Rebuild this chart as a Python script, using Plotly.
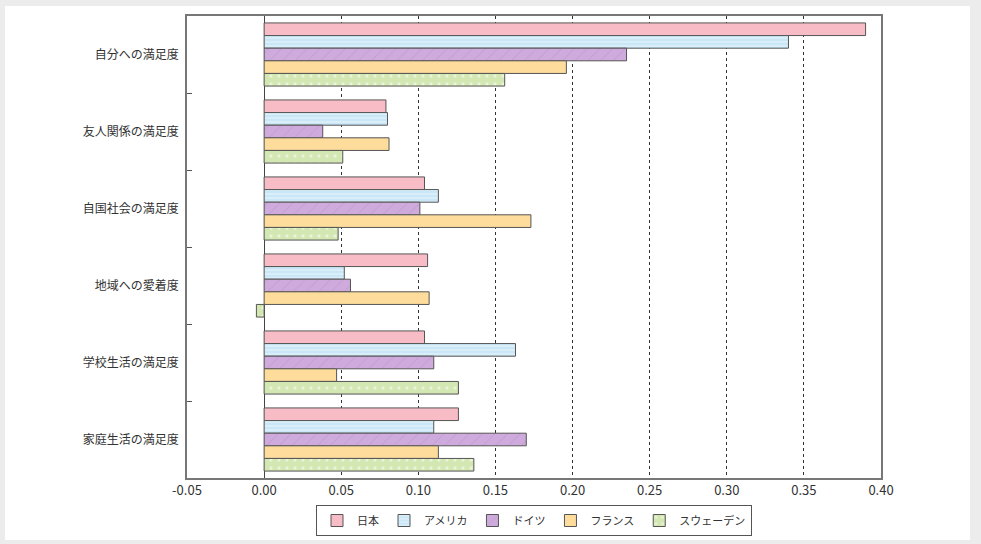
import plotly.graph_objects as go

categories = ["自分への満足度", "友人関係の満足度", "自国社会の満足度", "地域への愛着度", "学校生活の満足度", "家庭生活の満足度"]
series_names = ["日本", "アメリカ", "ドイツ", "フランス", "スウェーデン"]
japan = [0.390, 0.079, 0.104, 0.106, 0.104, 0.126]
usa = [0.340, 0.080, 0.113, 0.052, 0.163, 0.110]
germany = [0.235, 0.038, 0.101, 0.056, 0.110, 0.170]
france = [0.196, 0.081, 0.173, 0.107, 0.047, 0.113]
sweden = [0.156, 0.051, 0.048, -0.005, 0.126, 0.136]
x_ticks = [-0.05, 0.0, 0.05, 0.10, 0.15, 0.20, 0.25, 0.30, 0.35, 0.40]
x_tick_labels = ["-0.05", "0.00", "0.05", "0.10", "0.15", "0.20", "0.25", "0.30", "0.35", "0.40"]

values = [japan, usa, germany, france, sweden]
colors = ["#f8bcc6", "#c9e7f6", "#cfaadc", "#fddc9c", "#d3e7b2"]
patterns = [
    dict(shape=""),
    dict(shape="-", fgcolor="#ffffff", bgcolor="#c9e7f6", size=4, solidity=0.3, fillmode="overlay"),
    dict(shape="/", fgcolor="#9c78ac", bgcolor="#cfaadc", size=9, solidity=0.06, fillmode="overlay"),
    dict(shape=""),
    dict(shape=".", fgcolor="#ffffff", bgcolor="#d3e7b2", size=8, solidity=0.15, fillmode="overlay"),
]

fig = go.Figure()
for name, vals, col, pat in zip(series_names, values, colors, patterns):
    fig.add_trace(go.Bar(
        y=categories, x=vals, name=name, orientation="h",
        marker=dict(color=col, line=dict(color="#555555", width=1), pattern=pat),
    ))

font_family = "Noto Sans CJK JP, Noto Sans, sans-serif"
fig.update_layout(
    width=981, height=544,
    paper_bgcolor="#ececec", plot_bgcolor="#ffffff",
    margin=dict(l=187, r=100, t=16, b=66, autoexpand=False),
    barmode="group", bargap=0.18, bargroupgap=0,
    font=dict(family=font_family, size=12, color="#333333"),
    showlegend=True,
    legend=dict(
        orientation="h", x=0.5, xanchor="center", y=-0.092, yanchor="middle",
        bordercolor="#555555", borderwidth=1, bgcolor="#ffffff",
        font=dict(size=11, color="#333333"), itemwidth=30, tracegroupgap=0,
        traceorder="normal",
    ),
    shapes=[dict(type="rect", xref="paper", yref="paper",
                 x0=-182/694, x1=1 + 89/694,
                 y0=-62/462, y1=1 + 10/462,
                 fillcolor="#ffffff", line=dict(width=0), layer="below")],
)
fig.update_xaxes(
    range=[-0.05, 0.40], tickvals=x_ticks, ticktext=x_tick_labels,
    showgrid=True, gridcolor="#333333", griddash="dot", gridwidth=1,
    zeroline=True, zerolinecolor="#444444", zerolinewidth=1.2,
    showline=True, linecolor="#777777", linewidth=1.5, mirror=True,
    ticks="", tickfont=dict(size=13, color="#333333"),
)
fig.update_yaxes(
    autorange="reversed", categoryorder="array", categoryarray=categories,
    showline=True, linecolor="#777777", linewidth=1.5, mirror=True,
    ticks="inside", ticklen=5, tickcolor="#555555", tickson="boundaries",
    ticklabelstandoff=4,
    showgrid=False, tickfont=dict(size=12, color="#333333"),
)

fig.write_html("out.html", config={"displayModeBar": False},
               post_script="document.body.style.margin='0';document.body.style.overflow='hidden';")
